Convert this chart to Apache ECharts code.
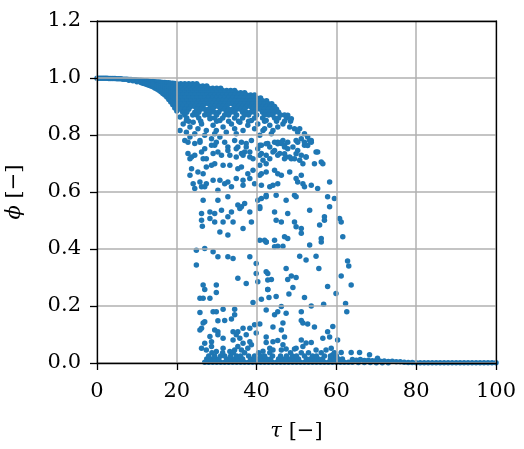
<!DOCTYPE html>
<html><head><meta charset="utf-8">
<script src="https://cdn.jsdelivr.net/npm/echarts@6/dist/echarts.min.js"></script>
<style>html,body{margin:0;padding:0;background:#fff}#c{width:524px;height:449px}</style>
</head><body><div id="c"></div>
<script>
// ---- data (tau, phi) ----
const xTicks = [0, 20, 40, 60, 80, 100];
const yTicks = [0.0, 0.2, 0.4, 0.6, 0.8, 1.0, 1.2];

const bandLeftTop = [[0,0.999],[0.5,0.999],[1,0.999],[1.5,0.999],[2,0.999],[2.5,0.999],[3,0.998],[3.5,0.998],[4,0.998],[4.5,0.998],[5,0.997],[5.5,0.997],[6,0.997],[6.5,0.996],[7,0.996],[7.5,0.996],[8,0.995],[8.5,0.995],[9,0.994],[9.5,0.994],[10,0.993],[10.5,0.992],[11,0.992],[11.5,0.991],[12,0.99],[12.5,0.99],[13,0.989],[13.5,0.988],[14,0.988],[14.5,0.987],[15,0.986],[15.5,0.986],[16,0.985],[16.5,0.984],[17,0.984],[17.5,0.983],[18,0.983],[18.5,0.982],[19,0.982],[19.5,0.981]];
const bandLeftLower = [[8,0.992],[9,0.99],[10,0.987],[11,0.984],[11.5,0.982],[12,0.98],[12.5,0.977],[13,0.975],[13.5,0.972],[14,0.969],[14.5,0.965],[15,0.961],[15.5,0.957],[16,0.952],[16.5,0.946],[17,0.94],[17.5,0.933],[18,0.925],[18.5,0.916],[19,0.906],[19.5,0.895],[20,0.884]];
const bandLeftFill = [[14,0.978],[15,0.974],[15.5,0.969],[16,0.966],[16.5,0.96],[16.5,0.972],[17,0.955],[17,0.968],[17.5,0.962],[17.5,0.948],[18,0.97],[18,0.955],[18,0.94],[18.5,0.962],[18.5,0.947],[18.5,0.931],[19,0.968],[19,0.952],[19,0.936],[19,0.92],[19.5,0.96],[19.5,0.944],[19.5,0.928],[19.5,0.911]];

const denseRowPhi = [0.980, 0.972, 0.964, 0.956, 0.948, 0.940, 0.930, 0.920, 0.910, 0.900, 0.890, 0.880, 0.870, 0.860, 0.848];
const denseRowTau = [
  [20,21,22,23,24,25],
  [20.5,21.5,22.5,23.5,24.5,25.5,26.5,27.5],
  [20,21,22,23,24,25,26,27,28,29,30,31],
  [20.5,21.5,22.5,23.5,24.5,25.5,26.5,27.5,28.5,29.5,30.5,31.5,32.5,33.5,34.5],
  [20,21,22,23,24,25,26,27,28,29,30,31,32,33,34,35,36,37],
  [20.5,21.5,22.5,23.5,24.5,25.5,26.5,27.5,28.5,29.5,30.5,31.5,32.5,33.5,34.5,35.5,36.5,37.5,38.5,39.5],
  [20,21,22,23,24,25,26,27,28,29,30,31,32,33,34,35,36,37,38,39,40,41],
  [20.5,21.5,22.5,23.5,24.5,25.5,26.5,27.5,28.5,29.5,30.5,31.5,32.5,33.5,34.5,35.5,36.5,37.5,38.5,39.5,40.5,41.5,42.5],
  [20,21,22,23,24,25,26,27,28,29,30,31,32,33,34,35,36,37,38,39,40,41,42,43,43.8],
  [20.5,21.5,22.5,23.5,24.5,25.5,26.5,28.5,29.5,30.5,31.5,32.5,34.5,35.5,36.5,37.5,38.5,39.5,40.5,41.5,42.5,43.5,44.5],
  [21,22,23,25,26,27,28,29,31,32,33,34,35,36,37,39,40,41,42,43,44,45],
  [21.5,22.5,24.5,25.5,27.5,28.5,29.5,30.5,32.5,33.5,34.5,36.5,37.5,38.5,39.5,41.5,42.5,43.5,44.5,45.5],
  [22,24,25,27,28,30,32,33,35,37,38,40,42,43,44,46,47],
  [22.5,25.5,28.5,29.5,31.5,34.5,36.5,39.5,41.5,44.5,45.5,47.5],
  [23,26,30,33,35.5,38,42,45,47,48.5]
];

const upperScatter = [
  [20.8,0.863],[21.6,0.839],[22.4,0.851],[23.3,0.828],[24.1,0.845],[25.3,0.822],[26.2,0.839],[27.4,0.816],[28.3,0.857],[29.1,0.834],[29.9,0.816],[30.8,0.851],[31.6,0.828],[32.4,0.810],[33.7,0.839],[34.5,0.822],[35.8,0.845],[36.6,0.816],[37.8,0.834],[38.7,0.851],[39.5,0.822],[40.3,0.839],[41.6,0.816],[42.4,0.851],[20.8,0.816],[22.4,0.810],[24.5,0.804],[27.0,0.799],[29.5,0.804],[34.9,0.804],[40.8,0.799],
  [47.8,0.869],[48.7,0.857],[48.3,0.828],[49.5,0.822],[50.8,0.822],[50.3,0.810],[52.0,0.804],[52.8,0.793],[53.7,0.781],[51.2,0.787],[49.9,0.781],[52.0,0.764],[54.9,0.740],[50.3,0.746],[51.2,0.729],[52.4,0.723],[47.4,0.723],[48.7,0.717],[45.3,0.775],[46.2,0.770],[46.6,0.781],[47.0,0.758],[43.7,0.804],[42.8,0.770],[44.5,0.746],[45.8,0.735],[47.8,0.752],[42.4,0.729],[53.3,0.781],[52.8,0.763],
  [42.0,0.822],[43.3,0.834],[44.1,0.816],[45.3,0.828],[46.6,0.839],
  [22.0,0.781],[23.3,0.793],[24.5,0.770],[25.8,0.781],[27.0,0.752],[26.2,0.740],[28.7,0.787],[29.5,0.764],[30.8,0.793],[32.0,0.775],[32.8,0.758],[34.5,0.781],[35.3,0.758],[36.2,0.735],[37.4,0.770],[38.7,0.781],[40.3,0.752],[41.2,0.735],[22.8,0.735],[23.7,0.723],[29.1,0.735],[31.2,0.729],[33.3,0.729],[38.3,0.723],[26.6,0.717],
  [22.8,0.775],[25.8,0.775],[28.7,0.764],[29.9,0.775],[34.9,0.752],[36.2,0.775],[37.4,0.758],[37.0,0.740],[23.3,0.717],[24.5,0.729],[27.4,0.717],[30.3,0.740],[32.8,0.746],[34.9,0.723],[36.6,0.729],[38.3,0.740],[39.1,0.717],[40.8,0.764],
  [23.7,0.682],[23.3,0.659],[25.3,0.670],[26.6,0.664],[27.4,0.688],[28.7,0.694],[29.5,0.699],[31.6,0.694],[33.3,0.694],[35.3,0.682],[36.2,0.688],[37.8,0.664],[39.1,0.676],[40.8,0.694],[40.8,0.659],
  [24.1,0.629],[25.8,0.635],[26.2,0.618],[27.4,0.629],[29.1,0.641],[30.8,0.641],[32.0,0.629],[32.8,0.635],[33.7,0.618],[34.9,0.647],[36.6,0.641],[38.3,0.647],[39.5,0.629],[41.2,0.624],
  [24.5,0.612],[27.0,0.618],[30.3,0.606],[36.6,0.624],
  [41.2,0.764],[42.4,0.769],[43.3,0.758],[44.5,0.775],[45.3,0.769],[46.2,0.775],[47.0,0.764],[47.8,0.775],[49.1,0.758],[50.3,0.775],[52.0,0.775],[53.7,0.775],
  [40.8,0.729],[41.6,0.711],[42.4,0.699],[43.3,0.717],[44.1,0.740],[45.3,0.729],[47.0,0.734],[47.0,0.717],[48.3,0.723],[49.5,0.717],[49.9,0.734],[50.8,0.711],[51.6,0.699],[52.4,0.723],[54.5,0.699],[55.3,0.740],[56.2,0.705],[56.6,0.699],
  [41.2,0.664],[42.4,0.670],[44.5,0.676],[45.3,0.664],[46.2,0.659],[48.3,0.670],[49.9,0.647],[50.3,0.635],[51.2,0.659],[51.6,0.629],[52.0,0.618],[53.7,0.624],[55.3,0.612],[58.3,0.635],[43.3,0.618],[44.1,0.624],[45.3,0.629]
];

const midScatter = [
  [26.6,0.571],[30.3,0.571],[32.8,0.583],[35.3,0.554],[36.2,0.548],[37.0,0.560],[38.3,0.530],[40.3,0.571],[40.8,0.548],[42.4,0.589],
  [26.2,0.525],[28.3,0.530],[29.5,0.525],[31.2,0.536],[33.7,0.530],[32.8,0.513],[35.8,0.542],
  [26.2,0.501],[26.4,0.480],[28.3,0.507],[29.5,0.495],[31.6,0.495],[34.1,0.495],[38.7,0.495],
  [30.8,0.460],[32.8,0.449],[36.6,0.472],[40.8,0.431],[42.4,0.425],
  [24.9,0.396],[27.0,0.402],[29.1,0.390],[30.3,0.373],[32.8,0.373],[34.1,0.367],[38.3,0.373],
  [41.2,0.577],[42.4,0.583],[44.9,0.589],[47.4,0.571],[49.5,0.589],[49.9,0.583],[57.8,0.583],[59.5,0.577],[58.3,0.548],[40.8,0.542],[44.5,0.530],[47.8,0.525],[53.3,0.536],[57.0,0.513],[57.0,0.501],[60.8,0.507],[61.2,0.495],[44.9,0.501],[46.2,0.495],[49.5,0.495],[49.9,0.478],[51.2,0.472],[51.2,0.455],[55.8,0.484],[56.2,0.437],[56.2,0.425],[61.6,0.443],[47.0,0.443],[47.8,0.437],[42.0,0.431],[44.5,0.431],[42.4,0.425],[53.3,0.414],[44.5,0.408],[45.3,0.410],[46.6,0.410],[50.8,0.375],[54.9,0.375],
  [39.9,0.349],[24.9,0.344],[39.9,0.314],[35.3,0.297],[37.4,0.279],[40.3,0.285],[42.8,0.314],[26.6,0.274],[29.9,0.274],[27.0,0.258],[29.9,0.247],[28.3,0.227],[25.8,0.227],[26.6,0.227],[39.1,0.212],[41.2,0.224],[42.8,0.258],
  [52.4,0.361],[55.6,0.332],[62.8,0.358],[63.1,0.340],[61.2,0.305],[63.7,0.274],[47.4,0.332],[42.4,0.320],[42.8,0.291],[43.7,0.293],[47.8,0.293],[48.7,0.305],[49.9,0.300],[49.1,0.265],[42.8,0.258],[43.1,0.230],[44.9,0.233],[48.1,0.242],[52.0,0.230],[57.8,0.268],[59.9,0.244],[62.3,0.209],[53.7,0.200],[56.8,0.206]
];

const lowScatter = [
  [25.8,0.177],[29.1,0.180],[29.9,0.180],[31.6,0.189],[34.5,0.189],[34.5,0.169],[33.7,0.154],[32.0,0.149],[30.3,0.148],[27.0,0.145],[26.6,0.140],[26.2,0.122],[25.8,0.116],[29.5,0.116],[30.3,0.110],[34.1,0.110],[35.3,0.110],[36.6,0.122],[38.3,0.122],[39.5,0.134],[39.9,0.105],
  [30.3,0.099],[28.3,0.093],[28.7,0.075],[31.6,0.087],[34.1,0.081],[34.9,0.099],[35.8,0.087],[36.6,0.069],[37.4,0.099],[38.3,0.075],[27.0,0.069],[26.2,0.052],[27.4,0.046],[28.7,0.058],[29.9,0.040],[31.6,0.052],[33.3,0.040],[34.5,0.046],[35.3,0.058],[36.2,0.046],[37.8,0.052],[38.7,0.064],
  [62.6,0.180],[46.2,0.198],[42.4,0.186],[47.4,0.175],[45.3,0.180],[44.5,0.169],[51.2,0.180],[40.8,0.137],[44.1,0.126],[46.6,0.140],[46.2,0.116],[51.2,0.149],[51.6,0.140],[52.8,0.137],[54.5,0.126],[57.8,0.110],[58.3,0.091],[56.6,0.087],[59.1,0.128],[60.3,0.081],[42.4,0.091],[42.4,0.072],[44.1,0.075],[45.3,0.079],[47.0,0.091],[46.6,0.064],[51.2,0.081],[52.4,0.070],[53.7,0.072],[49.9,0.052],[49.5,0.049],[51.6,0.058],[43.3,0.052],[44.1,0.046],[41.6,0.041],[47.4,0.049],[46.2,0.046],[54.9,0.046],[57.4,0.046],[58.7,0.052],[59.1,0.029],[61.2,0.037],[63.7,0.037],[65.8,0.037],[68.3,0.029],[70.3,0.017]
];

const floorRowPhi = [0.003, 0.014, 0.025, 0.036];
const floorRowTau = [
  [27,28,29,30,31,32,33,34,35,36,37,38,39,40,41,42,43,44,45,46,47,48,49,50,51,52,53,54,55,56,57,58,59,60,61,62,63],
  [27.5,28.5,29.5,30.5,32.5,33.5,34.5,35.5,36.5,38.5,39.5,40.5,41.5,42.5,43.5,45.5,46.5,47.5,48.5,49.5,50.5,52.5,53.5,54.5,55.5,56.5,58.5,59.5,60.5,61.5],
  [28,29.5,31,32,33.5,35,36,38,39.5,41,42,44,46,47.5,49,50,52,54,55,57,58.5,60],
  [28.8,31.5,34.2,37,40.5,43.3,48.5,51.2,53,56.2,59.5]
];

const tailPoints = [[64,0.012],[65,0.010],[66,0.012],[67,0.009],[68,0.010],[69,0.008],[70,0.009],[71,0.006],[72,0.007],[73,0.005],[74,0.006],[75,0.004],[76,0.004],[77,0.003],[78,0.002],[79,0.002],[80,0.001],[81,0.001],[82,0.001],[83,0.001],[84,0.001],[85,0.001],[86,0.001],[87,0.001],[88,0.001],[89,0.001],[90,0.001],[91,0.001],[92,0.001],[93,0.001],[94,0.001],[95,0.001],[96,0.001],[97,0.001],[98,0.001],[99,0.001],[100,0.001],
  [64,0.003],[65.5,0.002],[67,0.002],[68.5,0.002],[70,0.001],[71.5,0.001],[73,0.001]];

// ---- build ----
const rowsToPoints = (phis, taus) => phis.flatMap((p, i) => taus[i].map(t => [t, p]));
const allPoints = [].concat(
  bandLeftTop, bandLeftLower, bandLeftFill,
  rowsToPoints(denseRowPhi, denseRowTau),
  upperScatter, midScatter, lowScatter,
  rowsToPoints(floorRowPhi, floorRowTau),
  tailPoints
);

const FONT = 'DejaVu Serif';
const FS = 21;
const chart = echarts.init(document.getElementById('c'), null, {renderer: 'canvas'});
chart.setOption({
  animation: false,
  backgroundColor: '#fff',
  grid: {left: 97, right: 28, top: 21, bottom: 86, containLabel: false, outerBoundsMode: 'none'},
  xAxis: [{
    type: 'value', min: xTicks[0], max: xTicks[xTicks.length - 1], interval: 20, z: 5,
    axisLine: {lineStyle: {color: '#000', width: 1.3}},
    axisTick: {inside: false, length: 7, lineStyle: {color: '#000', width: 1.3}},
    axisLabel: {color: '#000', fontFamily: FONT, fontSize: FS, margin: 18},
    splitLine: {show: true, lineStyle: {color: '#b0b0b0', width: 1.5}},
    name: '{i|τ} [−]', nameLocation: 'middle', nameGap: 58,
    nameTextStyle: {color: '#000', fontFamily: FONT, fontSize: FS,
      rich: {i: {fontStyle: 'italic', fontFamily: FONT, fontSize: FS, color: '#000'}}}
  }, {
    type: 'value', position: 'top', min: 0, max: 100, z: 5,
    axisLine: {show: true, onZero: false, lineStyle: {color: '#000', width: 1.3}},
    axisTick: {show: false}, axisLabel: {show: false}, splitLine: {show: false}
  }],
  yAxis: [{
    type: 'value', min: yTicks[0], max: yTicks[yTicks.length - 1], interval: 0.2, z: 5,
    axisLine: {lineStyle: {color: '#000', width: 1.3}},
    axisTick: {inside: false, length: 7, lineStyle: {color: '#000', width: 1.3}},
    axisLabel: {color: '#000', fontFamily: FONT, fontSize: FS, margin: 16, formatter: v => v.toFixed(1)},
    splitLine: {show: true, lineStyle: {color: '#b0b0b0', width: 1.5}},
    name: '{i|ϕ} [−]', nameLocation: 'middle', nameGap: 72,
    nameTextStyle: {color: '#000', fontFamily: FONT, fontSize: FS,
      rich: {i: {fontStyle: 'italic', fontFamily: FONT, fontSize: FS, color: '#000'}}}
  }, {
    type: 'value', position: 'right', min: 0, max: 1.2, z: 5,
    axisLine: {show: true, onZero: false, lineStyle: {color: '#000', width: 1.3}},
    axisTick: {show: false}, axisLabel: {show: false}, splitLine: {show: false}
  }],
  series: [{
    type: 'scatter', xAxisIndex: 0, yAxisIndex: 0, z: 2,
    symbol: 'circle', symbolSize: 5.5, large: false, progressive: 0,
    itemStyle: {color: '#1f77b4', opacity: 1},
    data: allPoints
  }]
});
</script>
</body></html>
